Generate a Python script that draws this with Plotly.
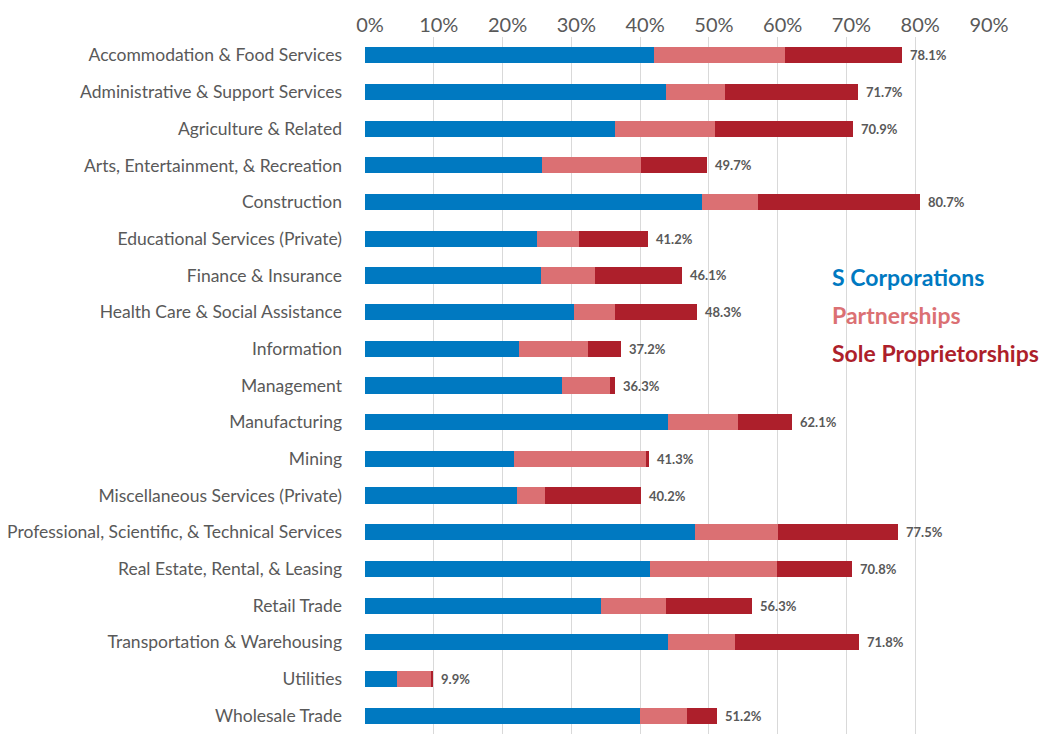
import plotly.graph_objects as go

categories = [
    "Accommodation & Food Services",
    "Administrative & Support Services",
    "Agriculture & Related",
    "Arts, Entertainment, & Recreation",
    "Construction",
    "Educational Services (Private)",
    "Finance & Insurance",
    "Health Care & Social Assistance",
    "Information",
    "Management",
    "Manufacturing",
    "Mining",
    "Miscellaneous Services (Private)",
    "Professional, Scientific, & Technical Services",
    "Real Estate, Rental, & Leasing",
    "Retail Trade",
    "Transportation & Warehousing",
    "Utilities",
    "Wholesale Trade",
]

s_corporations = [42.0, 43.7, 36.4, 25.8, 49.0, 25.0, 25.6, 30.4, 22.4, 28.6,
                  44.0, 21.6, 22.1, 48.0, 41.4, 34.3, 44.1, 4.7, 40.0]
partnerships = [19.1, 8.7, 14.5, 14.3, 8.1, 6.1, 7.8, 5.9, 10.0, 7.0,
                10.2, 19.2, 4.1, 12.0, 18.5, 9.5, 9.7, 4.9, 6.8]
sole_proprietorships = [17.0, 19.3, 20.0, 9.6, 23.6, 10.1, 12.7, 12.0, 4.8, 0.7,
                        7.9, 0.5, 14.0, 17.5, 10.9, 12.5, 18.0, 0.3, 4.4]
totals = [78.1, 71.7, 70.9, 49.7, 80.7, 41.2, 46.1, 48.3, 37.2, 36.3,
          62.1, 41.3, 40.2, 77.5, 70.8, 56.3, 71.8, 9.9, 51.2]

series_names = ["S Corporations", "Partnerships", "Sole Proprietorships"]
colors = ["#0079C1", "#DB7073", "#AD1F2B"]

FONT = "Lato, 'Open Sans', sans-serif"
GRAY = "#595959"

fig = go.Figure()
for name, vals, col in zip(series_names, [s_corporations, partnerships, sole_proprietorships], colors):
    fig.add_trace(go.Bar(
        y=categories, x=[v / 100 for v in vals], name=name, orientation="h",
        marker=dict(color=col, line=dict(width=0)),
        hoverinfo="x+y+name",
    ))

for cat, t in zip(categories, totals):
    fig.add_annotation(
        x=t / 100, y=cat, xref="x", yref="y", text=f"<b>{t:.1f}%</b>",
        showarrow=False, xanchor="left", yanchor="middle", xshift=6,
        font=dict(family=FONT, size=13, color=GRAY),
    )

legend_y = [0.656, 0.601, 0.547]
for name, col, yy in zip(series_names, colors, legend_y):
    fig.add_annotation(
        x=0.752, y=yy, xref="paper", yref="paper", text=f"<b>{name}</b>",
        showarrow=False, xanchor="left", yanchor="middle",
        font=dict(family=FONT, size=23, color=col),
    )

fig.update_layout(
    width=1044, height=726,
    margin=dict(l=357, r=68, t=29, b=0),
    barmode="stack", bargap=0.56,
    showlegend=False,
    plot_bgcolor="white", paper_bgcolor="white",
    xaxis=dict(
        side="top", range=[0, 0.9], dtick=0.1, tickformat=".0%",
        showgrid=True, gridcolor="#D9D9D9", gridwidth=1,
        zeroline=False, showline=False, ticks="",
        tickfont=dict(family=FONT, size=20, color=GRAY),
        ticklabelshift=5, automargin=False,
    ),
    yaxis=dict(
        autorange="reversed", showgrid=False, zeroline=False, showline=False,
        ticks="", tickfont=dict(family=FONT, size=17.5, color=GRAY),
        ticklabelstandoff=22, automargin=False,
    ),
)

fig.write_html("out.html")
